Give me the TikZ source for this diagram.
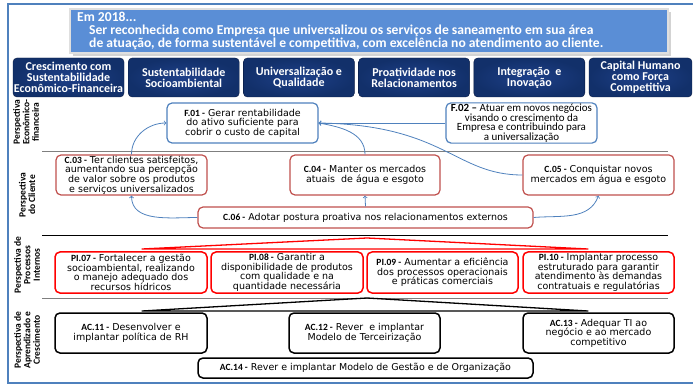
\documentclass[tikz,border=0pt]{standalone}
\usepackage{fontspec}
\setmainfont{DejaVu Sans}
\newfontfamily\calibri{Carlito}
\usetikzlibrary{positioning, calc, shadows}

\definecolor{frameblue}{HTML}{4F81BD}
\definecolor{headblue}{HTML}{5A8ED6}
\definecolor{navy}{HTML}{12306A}
\definecolor{navylight}{HTML}{1E4089}
\definecolor{navyline}{HTML}{081A42}
\definecolor{softred}{HTML}{C0504D}
\definecolor{sepgray}{HTML}{7F7F7F}

\newcommand{\boxid}[1]{{\calibri\bfseries #1}}

\begin{document}
\begin{tikzpicture}[
        x=1pt, y=-1pt,
        every node/.style={font=\fontsize{9.5}{9.6}\selectfont, align=center, inner sep=1pt},
        goal/.style={fill=white, rounded corners=5pt, line width=1.2pt, minimum width=151pt, minimum height=40pt},
        fingoal/.style={goal, draw=frameblue},
        cligoal/.style={goal, draw=softred},
        procgoal/.style={goal, draw=red, line width=1.5pt, minimum height=41pt},
        learngoal/.style={goal, draw=black, line width=1.5pt},
        pillar/.style={inner color=navylight, outer color=navy, draw=navyline, rounded corners=4pt, text=white, inner sep=0pt,
                       minimum height=39pt, font=\calibri\bfseries\fontsize{12}{11}\selectfont},
        persp/.style={rotate=90, font=\calibri\bfseries\fontsize{9.5}{9.5}\selectfont},
        link/.style={->, draw=frameblue, line width=0.8pt},
        wedge/.style={line width=1.3pt, line join=round}
    ]
    \useasboundingbox (0,0) rectangle (693,387);

    % Frame and separators
    \draw[frameblue, line width=1.5pt] (700,4) -- (8,4) -- (8,383) -- (700,383);
    \draw[sepgray, line width=0.9pt] (42,151) -- (668,151);
    \draw[black, line width=0.9pt] (42,235) -- (668,235);
    \draw[sepgray, line width=0.9pt] (42,298) -- (668,298);

    % Vision
    \node (vision) [fill=headblue, draw=gray!25, line width=1.5pt, drop shadow={opacity=0.35},
        minimum width=598pt, minimum height=44pt] at (369,31) {};
    \node (visiontxt) [anchor=north west, align=left, text=white, inner sep=0pt,
        font=\calibri\bfseries\fontsize{13.6}{13}\selectfont] at (77,11.5)
        {Em 2018...\\
        \hspace*{12pt}Ser reconhecida como Empresa que universalizou os serviços de saneamento em sua área\\
        \hspace*{12pt}de atuação, de forma sustentável e competitiva, com excelência no atendimento ao cliente.};

    % Strategic themes
    \foreach \i/\w/\txt in {1/111/{Crescimento com\\Sustentabilidade\\Econômico-Financeira},
                            2/111/{Sustentabilidade\\Socioambiental},
                            3/111/{Universalização e\\Qualidade},
                            4/111/{Proatividade nos\\Relacionamentos},
                            5/111/{Integração\ \ e\\Inovação},
                            6/103/{Capital Humano\\como Força\\Competitiva}}
        \node (theme\i) [pillar, minimum width=\w pt] at ({13+115.2*(\i-1)+\w/2},77.5) {\txt};

    % Perspective labels
    \node (pfin) [persp] at (26,122) {Perspectiva\\Econômico-\\financeira};
    \node (pcli) [persp] at (27,195) {Perspectiva\\do Cliente};
    \node (pproc) [persp] at (27,265) {Perspectiva de\\Processos\\Internos};
    \node (plearn) [persp] at (27,340) {Perspectiva de\\Aprendizado e\\Crescimento};

    % Financial
    \node (F01) [fingoal] at (242.5,123) {\boxid{F.01 -} Gerar rentabilidade\\do ativo suficiente para\\cobrir o custo de capital};
    \node (F02) [fingoal, font=\calibri\fontsize{11}{9.6}\selectfont] at (521.5,123)
        {\textbf{F.02 –} Atuar em novos negócios\\visando o crescimento da\\Empresa e contribuindo para\\a universalização};

    % Client
    \node (C03) [cligoal] at (131.5,175) {\boxid{C.03 -} Ter clientes satisfeitos,\\aumentando sua percepção\\de valor sobre os produtos\\e serviços universalizados};
    \node (C04) [cligoal, minimum width=150pt] at (365,175) {\boxid{C.04 -} Manter os mercados\\atuais\ \ de água e esgoto};
    \node (C05) [cligoal] at (598.5,175) {\boxid{C.05 -} Conquistar novos\\mercados em água e esgoto};
    \node (C06) [cligoal, minimum width=335pt, minimum height=21pt] at (365.5,217.5)
        {\boxid{C.06 -} Adotar postura proativa nos relacionamentos externos};

    % Internal processes
    \node (PI07) [procgoal, minimum width=152pt] at (131,272.5) {\boxid{PI.07 -} Fortalecer a gestão\\socioambiental, realizando\\o manejo adequado dos\\recursos hídricos};
    \node (PI08) [procgoal, minimum width=152pt] at (287,272.5) {\boxid{PI.08 -} Garantir a\\disponibilidade de produtos\\com qualidade e na\\quantidade necessária};
    \node (PI09) [procgoal] at (442.5,272.5) {\boxid{PI.09 -} Aumentar a eficiência\\dos processos operacionais\\e práticas comerciais};
    \node (PI10) [procgoal] at (598.5,272.5) {\boxid{PI.10 -} Implantar processo\\estruturado para garantir\\atendimento às demandas\\contratuais e regulatórias};

    % Learning and growth
    \node (AC11) [learngoal, minimum width=152pt] at (131,333) {\boxid{AC.11 -} Desenvolver e\\implantar política de RH};
    \node (AC12) [learngoal] at (364.5,333) {\boxid{AC.12 -} Rever\ \ e implantar\\Modelo de Terceirização};
    \node (AC13) [learngoal] at (598.5,333) {\boxid{AC.13 -} Adequar TI ao\\negócio e ao mercado\\competitivo};
    \node (AC14) [learngoal, minimum width=335pt, minimum height=20pt] at (365.5,368)
        {\boxid{AC.14 -} Rever e implantar Modelo de Gestão e de Organização};

    % Wedges
    \draw[wedge, red] (142,249) -- (367,238) -- (588,249) -- cycle;
    \draw[wedge, black] (142,311) -- (367,298) -- (588,311) -- cycle;

    % Connections
    \draw[link] (C03.north) to[out=90, in=180] (F01.west);
    \draw[link] (C06.west) to[out=180, in=-90] (C03.south);
    \draw[link] (C04.north) to[out=90, in=-10] (F01.east);
    \draw[link] (F02.west) -- (F01.east);
    \draw[link] (C05.west) .. controls (455,175) and (445,125) .. (F01.east);
    \draw[link] (C06.north) -- (C04.south);
    \draw[link] (C06.east) to[out=5, in=-110] (C05.south);

\end{tikzpicture}
\end{document}
